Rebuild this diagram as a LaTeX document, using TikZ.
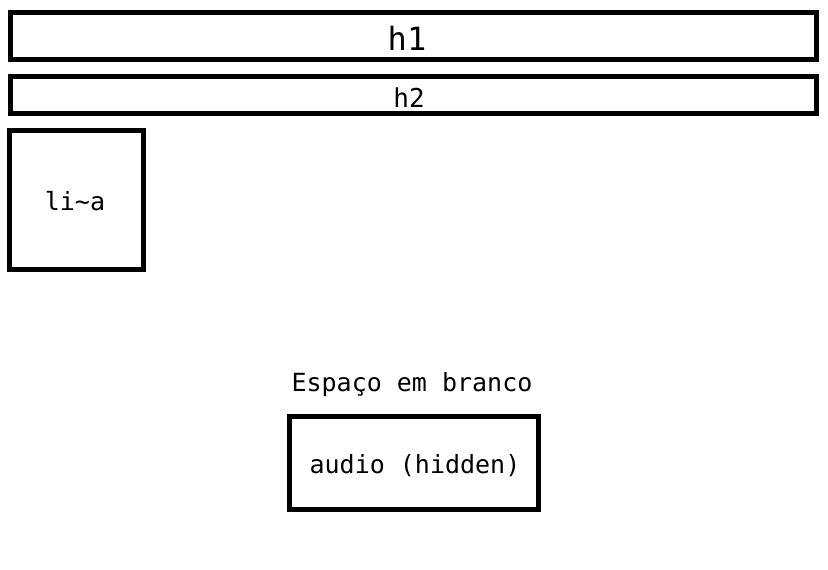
\documentclass[tikz,border=0pt]{standalone}
\usepackage{fontspec}
\setmonofont{DejaVu Sans Mono}
\begin{document}
\begin{tikzpicture}[x=1pt,y=-1pt,
  box/.style={draw=black,line width=5pt,fill=none},
  lbl/.style={font=\ttfamily\fontsize{25}{30}\selectfont,inner sep=0pt}]
\useasboundingbox (0,0) rectangle (828,570);
\draw[box] (10,12.5) rectangle (816,59.5);
\node[font=\ttfamily\fontsize{32}{38}\selectfont,inner sep=0pt] (h1) at (407,38) {h1};
\draw[box] (10,76.5) rectangle (816,113.5);
\node[lbl,font=\ttfamily\fontsize{26}{30}\selectfont] (h2) at (409,98) {h2};
\draw[box] (9.5,130.5) rectangle (143.5,269.5);
\node[lbl] (li) at (75,201) {li\string~a};
\node[lbl] (esp) at (412,385) {Espaço em branco};
\draw[box] (289.5,416.5) rectangle (538.5,509.5);
\node[lbl] (audio) at (415,466) {audio (hidden)};
\end{tikzpicture}
\end{document}
